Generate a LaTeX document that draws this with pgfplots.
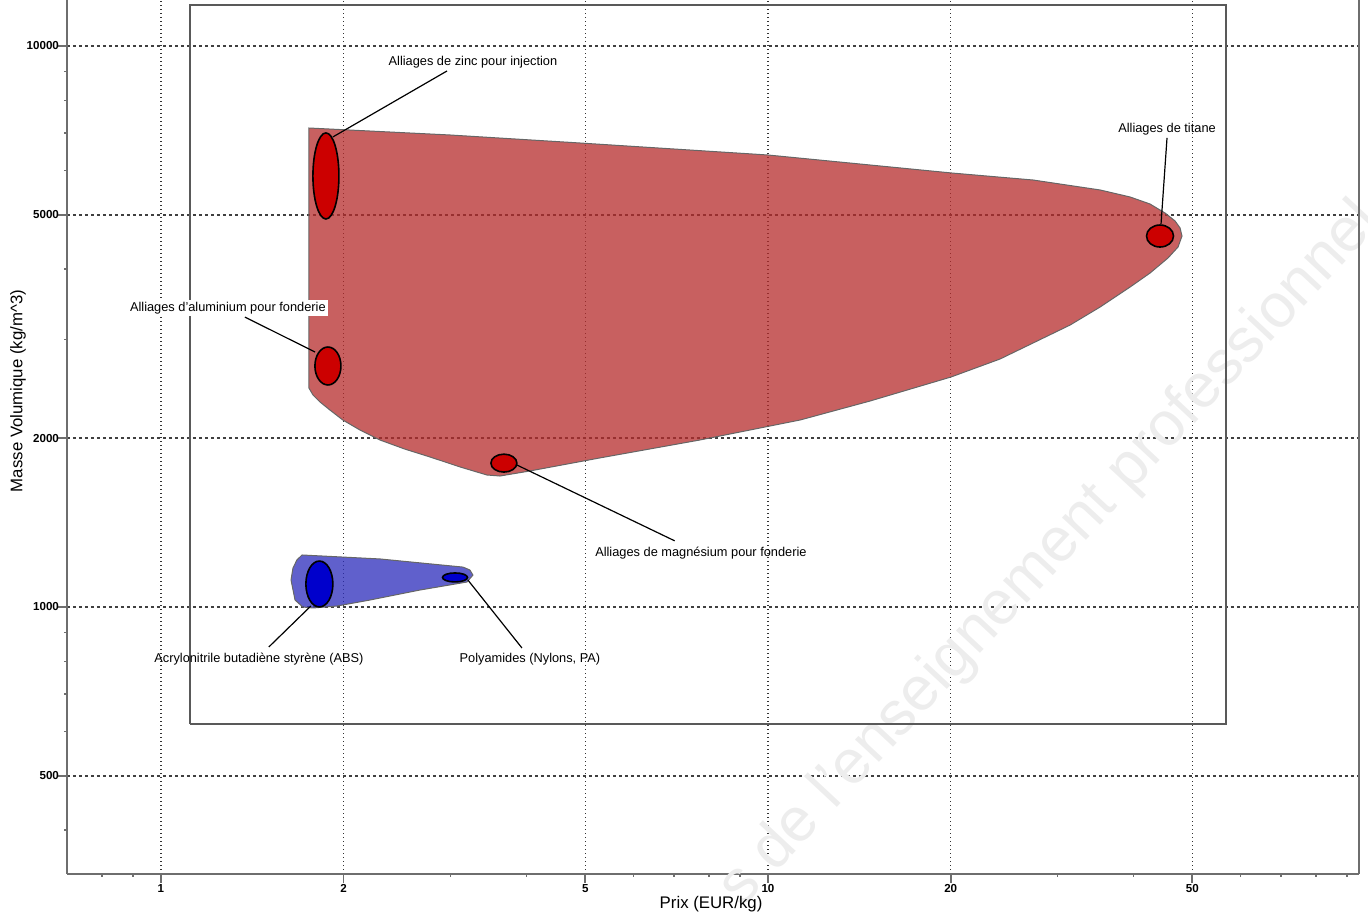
\documentclass[border=0pt]{standalone}
\usepackage{fontspec}
\setmainfont{Liberation Sans}
\usepackage{pgfplots}
\pgfplotsset{compat=1.18}
\usetikzlibrary{calc}
\definecolor{metalfill}{RGB}{182,43,43}
\definecolor{polyfill}{RGB}{43,43,187}
\definecolor{redell}{RGB}{204,0,0}
\definecolor{blueell}{RGB}{0,0,204}
\definecolor{axgray}{RGB}{110,110,110}
\newcommand\lbl{\fontsize{6.4}{7}\selectfont}
\begin{document}
\begin{tikzpicture}
\begin{axis}[
  scale only axis, width=646pt, height=437pt,
  xmode=log, ymode=log,
  xmin=0.7003, xmax=94.1, ymin=334.3, ymax=12078,
  axis lines*=left,
  axis line style={axgray, line width=1pt},
  clip=false,
  xtick={1,2,5,10,20,50}, xticklabels={1,2,5,10,20,50},
  minor xtick={0.8,0.9,3,4,6,7,8,9,30,40,60,70,80,90},
  ytick={500,1000,2000,5000,10000}, yticklabels={500,1000,2000,5000,10000},
  minor ytick={400,600,700,800,900,3000,4000,6000,7000,8000,9000},
  /pgf/number format/assume math mode=true,
  grid=major,
  major x grid style={black!80, line width=0.7pt, dash pattern=on 0.7pt off 1.3pt},
  major y grid style={black!75, line width=0.7pt, dash pattern=on 1.4pt off 1.6pt},
  tick align=outside, major tick length=4.5pt, minor tick length=1.5pt,
  tick style={axgray, line width=0.8pt},
  ticklabel style={font=\fontsize{5.8}{6}\selectfont\bfseries},
  xticklabel style={yshift=3pt},
  yticklabel style={xshift=4pt},
  xlabel={Prix (EUR/kg)},
  ylabel={Masse Volumique (kg/m\textasciicircum 3)},
  label style={font=\fontsize{8.4}{10}\selectfont},
  x label style={at={(axis description cs:0.4985,-0.0350)}, anchor=center},
  y label style={at={(axis description cs:-0.0379,0.5526)}, anchor=center},
]
% watermark
\node[rotate=47, anchor=base, text=black!7, font=\fontsize{31}{31}\selectfont] at (axis cs:30.51,1183) {s de l'enseignement professionnel};

% metal envelope
\addplot[fill=metalfill, fill opacity=0.75, draw=black!60, line width=0.5pt] coordinates {
 (1.753,7142) (2.9935,6940) (4.900,6716) (10.00,6393) (20.10,5937) (27.33,5769)
 (35.24,5538) (39.49,5381) (42.59,5228) (45.09,5038) (46.84,4876) (47.73,4738)
 (48.09,4585) (47.37,4382) (45.60,4189) (42.59,3938) (39.49,3718) (35.24,3425)
 (31.45,3181) (27.33,2955) (24.11,2767) (20.02,2570) (14.73,2329) (11.29,2154)
 (7.727,1985) (5.287,1844) (4.054,1748) (3.618,1712) (3.444,1719) (3.109,1777)
 (2.775,1851) (2.522,1912) (2.295,1985) (2.127,2068) (1.994,2154) (1.898,2245)
 (1.828,2320) (1.780,2388) (1.753,2457)
} -- cycle;

% polymer envelope
\addplot[fill=polyfill, fill opacity=0.75, draw=black!60, line width=0.5pt] coordinates {
 (1.708,1238) (2.295,1218) (3.145,1178) (3.228,1164) (3.266,1140) (3.193,1108)
 (2.670,1072) (2.21,1029) (1.95,1004) (1.780,996) (1.713,1000) (1.663,1029)
 (1.638,1117) (1.650,1173) (1.675,1213)
} -- cycle;

% inner frame
\addplot[draw=black!65, line width=1pt, mark=none] coordinates {
 (1.116,618.7) (56.8,618.7) (56.8,11834) (1.116,11834) (1.116,618.7)};

% right axis line
\draw[axgray, line width=1pt] (rel axis cs:1,0) -- (rel axis cs:1,1);

% leader lines
\addplot[black, line width=0.6pt, mark=none] coordinates {(2.960,9025) (1.920,6884)};
\addplot[black, line width=0.6pt, mark=none] coordinates {(45.43,6856) (44.41,4817)};
\addplot[black, line width=0.6pt, mark=none] coordinates {(1.375,3287) (1.794,2848)};
\addplot[black, line width=0.6pt, mark=none] coordinates {(7.02,1312) (3.859,1791)};
\addplot[black, line width=0.6pt, mark=none] coordinates {(1.506,848.8) (1.766,1004)};
\addplot[black, line width=0.6pt, mark=none] coordinates {(3.933,845.3) (3.204,1117)};

% bubbles
\addplot[only marks, mark=*, mark size=6.5pt, mark options={fill=redell, draw=black, line width=0.8pt, yscale=3.31}] coordinates {(1.870,5866)};
\addplot[only marks, mark=*, mark size=6.5pt, mark options={fill=redell, draw=black, line width=0.8pt, yscale=1.46}] coordinates {(1.884,2689)};
\addplot[only marks, mark=*, mark size=6.5pt, mark options={fill=redell, draw=black, line width=0.8pt, yscale=0.69}] coordinates {(3.673,1805)};
\addplot[only marks, mark=*, mark size=6.75pt, mark options={fill=redell, draw=black, line width=0.8pt, yscale=0.815}] coordinates {(44.24,4584)};
\addplot[only marks, mark=*, mark size=6.75pt, mark options={fill=blueell, draw=black, line width=0.8pt, yscale=1.70}] coordinates {(1.824,1099)};
\addplot[only marks, mark=*, mark size=6.25pt, mark options={fill=blueell, draw=black, line width=0.8pt, yscale=0.36}] coordinates {(3.051,1129)};

% labels
\node[font=\lbl] at (axis cs:3.266,9365) {Alliages de zinc pour injection};
\node[font=\lbl] at (axis cs:45.43,7113) {Alliages de titane};
\node[font=\lbl, fill=white, inner sep=1pt] at (axis cs:1.289,3411) {Alliages d'aluminium pour fonderie};
\node[font=\lbl] at (axis cs:7.755,1248) {Alliages de magnésium pour fonderie};
\node[font=\lbl] at (axis cs:1.450,807.9) {Acrylonitrile butadiène styrène (ABS)};
\node[font=\lbl] at (axis cs:4.054,807.9) {Polyamides (Nylons, PA)};

\coordinate (BL) at (rel axis cs:0,0);
\coordinate (TR) at (rel axis cs:1,1);
\end{axis}
\pgfresetboundingbox
\path[use as bounding box] ($(BL)+(-33.5pt,-21.5pt)$) rectangle ($(TR)+(4.5pt,0pt)$);
\end{tikzpicture}
\end{document}
